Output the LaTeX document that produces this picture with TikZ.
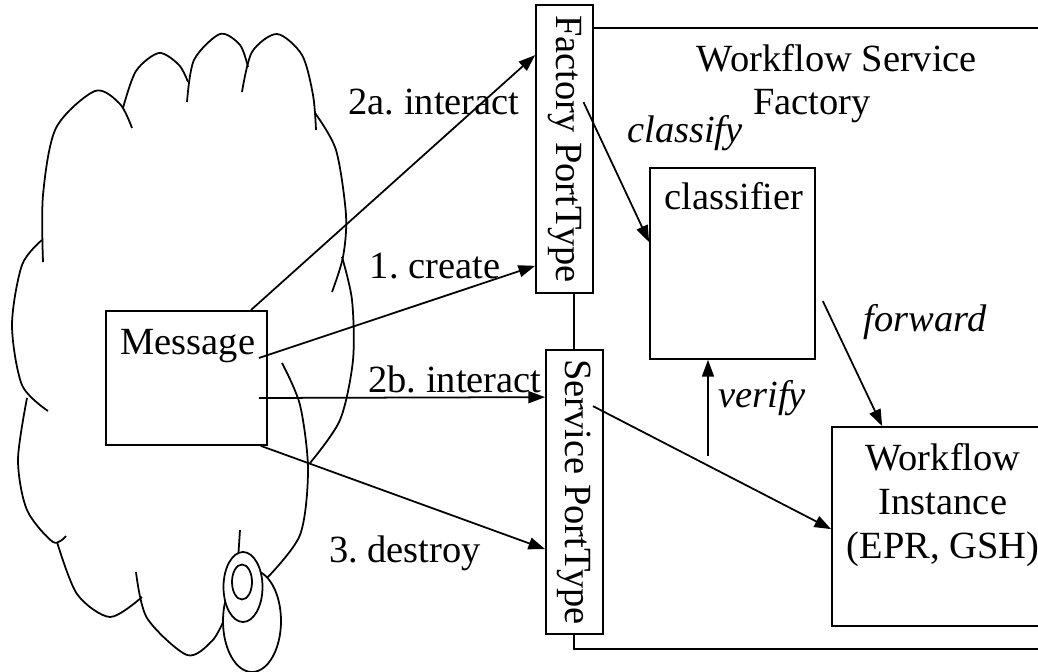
\documentclass[tikz,border=0pt]{standalone}
\usepackage{fontspec}
\setmainfont{Liberation Serif}
\usetikzlibrary{calc, positioning, arrows.meta}
\frenchspacing

\begin{document}
\begin{tikzpicture}[x=0.02cm, y=-0.02cm, font=\fontsize{21.9}{25}\selectfont,
	l_1/.style={line width=1pt},
	box/.style={l_1, draw, fill=white, inner sep=0pt},
	port/.style={box, minimum width=1.14cm},
	lbl/.style={inner sep=0pt, anchor=base},
	arr/.style={l_1, -{Triangle[length=9.5pt, width=6.8pt]}}]
	\useasboundingbox (0,0) rectangle (1038,672);
	% factory frame
	\draw[l_1] (1040,28) -| (574,649) -- (1040,649);
	% cloud
	\draw[l_1] plot[smooth] coordinates {(43,262) (43,195) (56,128) (95,91) (120,104) (132,128)};
	\draw[l_1] plot[smooth] coordinates {(123,108) (136,71) (159,53) (179,65) (188,82)};
	\draw[l_1] plot[smooth] coordinates {(187,102) (194,60) (220,34) (240,45) (248,67)};
	\draw[l_1] plot[smooth] coordinates {(242,92) (252,52) (277,34) (302,55) (313,95) (316,130)};
	\draw[l_1] plot[smooth] coordinates {(315,113) (336,150) (346,215) (343,257) (332,292)};
	\draw[l_1] plot[smooth] coordinates {(342,257) (352,300) (353,360) (340,420) (310,463)};
	\draw[l_1] plot[smooth] coordinates {(282,363) (300,405) (308,470) (300,535) (267,578)};
	\draw[l_1] plot[smooth] coordinates {(42,240) (22,265) (12,325) (22,385) (48,411)};
	\draw[l_1] plot[smooth] coordinates {(27,398) (18,460) (27,510) (53,542) (66,536)};
	\draw[l_1] plot[smooth] coordinates {(57,542) (77,594) (110,617) (142,597)};
	\draw[l_1] plot[smooth] coordinates {(136,572) (147,618) (187,655) (212,641) (224,620)};
	\draw[l_1] (240,530) -- (238,560);
	% bubbles
	\draw[l_1, fill=white] (252,621) ellipse [x radius=29, y radius=51];
	\draw[l_1, fill=white] (243,587) ellipse [x radius=19.5, y radius=35];
	\draw[l_1] (242,582) ellipse [x radius=10, y radius=17.5];
	% boxes
	\node[box, minimum width=3.22cm, minimum height=2.68cm] (msg) at (186.5,378) {};
	\node[lbl] (msgtxt) at (188,355) {Message};
	\node[port, minimum height=5.76cm] (fpt) at (564.5,149) {\rotatebox{-90}{Factory PortType}};
	\node[port, minimum height=5.68cm] (spt) at (574.5,492) {\rotatebox{-90}{Service PortType}};
	\node[box, minimum width=3.3cm, minimum height=3.82cm] (cls) at (732.5,263.5) {};
	\node[lbl] (clstxt) at (734,210) {classifier};
	\node[box, minimum width=4.44cm, minimum height=3.98cm] (inst) at (943,526.5) {};
	\node[lbl, align=center] (insttxt) at (943,558) {Workflow\\Instance\\(EPR, GSH)};
	\node[lbl, align=center] (wsf) at (837,115) {Workflow Service\\Factory\hspace*{1.3em}};
	% connectors
	\draw[arr] ($(msg.north east)+(-17,0)$) -- ($(fpt.north west)+(0,51)$);
	\draw[arr] ($(msg.east)+(-9,-20)$) -- ($(fpt.south west)+(0,-28)$);
	\draw[arr] ($(msg.east)+(-9,20)$) -- ($(spt.north west)+(0,48)$);
	\draw[arr] ($(msg.south east)+(-7,0)$) -- ($(spt.north west)+(0,200)$);
	\draw[arr] ($(fpt.north)+(19,98)$) -- ($(cls.north west)+(0,75)$);
	\draw[arr] ($(cls.south)+(-24.5,96)$) -- ($(cls.south)+(-24.5,0)$);
	\draw[arr] ($(spt.north)+(18.5,57)$) -- ($(inst.north west)+(0,103)$);
	\draw[arr] ($(cls.north east)+(7,134)$) -- ($(inst.north west)+(51,0)$);
	% labels
	\node[lbl] (l2a) at (434,115) {2a. interact};
	\node[lbl] (l1) at (435,278) {1. create};
	\node[lbl] (l2b) at (455,392) {2b. interact};
	\node[lbl] (l3) at (405,562) {3. destroy};
	\node[lbl] (lcls) at (685,143) {\itshape classify};
	\node[lbl] (lfwd) at (925,332) {\itshape forward};
	\node[lbl] (lver) at (762,407) {\itshape verify};
\end{tikzpicture}
\end{document}
